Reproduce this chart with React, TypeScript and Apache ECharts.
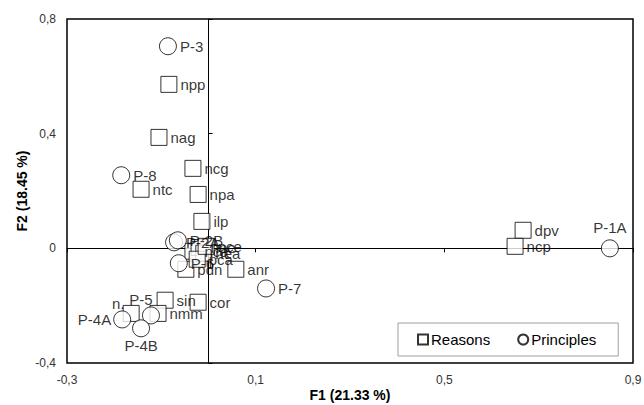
import React, { useEffect, useRef } from "react";
import * as echarts from "echarts";

// Reasons (squares)
const reasonNames = ["npp", "nag", "ncg", "ntc", "npa", "ilp", "pdn", "nca", "npe", "nea", "pca", "nce", "anr", "dpv", "ncp", "sin", "cor", "nmm", "n."];
const reasonF1 = [-0.084, -0.105, -0.033, -0.143, -0.022, -0.014, -0.048, -0.033, -0.02, -0.01, -0.024, -0.005, 0.058, 0.667, 0.65, -0.092, -0.022, -0.107, -0.164];
const reasonF2 = [0.572, 0.387, 0.279, 0.206, 0.188, 0.094, -0.073, -0.01, 0.003, -0.017, -0.038, 0.007, -0.073, 0.063, 0.007, -0.181, -0.188, -0.227, -0.227];

// Principles (circles)
const principleNames = ["P-3", "P-8", "P-2A", "P-2B", "P-6", "P-7", "P-1A", "P-5", "P-4A", "P-4B"];
const principleF1 = [-0.086, -0.185, -0.073, -0.065, -0.063, 0.122, 0.851, -0.122, -0.183, -0.143];
const principleF2 = [0.705, 0.255, 0.021, 0.028, -0.052, -0.14, 0.0, -0.234, -0.248, -0.279];

// Axis settings
const xMin = -0.3, xMax = 0.9, xStep = 0.4;
const yMin = -0.4, yMax = 0.8, yStep = 0.4;
const xTitle = "F1 (21.33 %)";
const yTitle = "F2 (18.45 %)";
const seriesNames = ["Reasons", "Principles"];

// label placement tweaks (style only)
const labelStyleByName: Record<string, any> = {
  "P-1A": { position: "top", distance: 4 },
  "P-4A": { position: "left", distance: 2 },
  "P-4B": { position: "bottom", distance: 1 },
  "P-5": { position: "top", distance: 0, offset: [-10, 1] },
  "n.": { position: "top", distance: 0, offset: [-13, 6] },
};

const FONT = "'Liberation Sans', Arial, sans-serif";

const fmt = (v: number) => {
  const r = +(+v).toFixed(1);
  return r === 0 ? "0" : String(r).replace(".", ",");
};

function buildData(names: string[], xs: number[], ys: number[]) {
  return names.map((n, i) => {
    const item: any = { name: n, value: [xs[i], ys[i]] };
    if (labelStyleByName[n]) item.label = labelStyleByName[n];
    return item;
  });
}

export default function App() {
  const ref = useRef<HTMLDivElement>(null);
  useEffect(() => {
    if (!ref.current) return;
    const chart = echarts.init(ref.current, null, { renderer: "svg" });
    const baseLabel = {
      show: true,
      position: "right",
      distance: 3,
      formatter: (p: any) => p.name,
      color: "#000",
      fontSize: 15,
      fontFamily: FONT,
    };
    chart.setOption({
      animation: false,
      backgroundColor: "#fff",
      textStyle: { fontFamily: FONT },
      grid: {
        left: 67,
        top: 19,
        right: 11,
        bottom: 42,
        containLabel: false,
        outerBoundsMode: "none",
        show: true,
        borderColor: "#000",
        borderWidth: 1.5,
        backgroundColor: "transparent",
      },
      legend: {
        data: seriesNames,
        left: 398,
        top: 323,
        orient: "horizontal",
        padding: [9, 22, 9, 19],
        itemGap: 27,
        itemWidth: 10,
        itemHeight: 10,
        borderColor: "#a0a0a0",
        borderWidth: 1,
        backgroundColor: "#fff",
        textStyle: { fontSize: 15, color: "#000", fontFamily: FONT, padding: [0, 0, 0, -2] },
      },
      xAxis: [
        {
          type: "value",
          min: xMin,
          max: xMax,
          interval: xStep,
          name: xTitle,
          nameLocation: "middle",
          nameMoveOverlap: false,
          nameGap: 25,
          nameTextStyle: { fontSize: 14, fontWeight: "bold", color: "#000", fontFamily: FONT },
          axisLine: { show: false, onZero: false },
          axisTick: { show: false },
          splitLine: { show: false },
          axisLabel: { formatter: fmt, fontSize: 12, color: "#333", margin: 11, fontFamily: FONT },
        },
        {
          type: "value",
          min: xMin,
          max: xMax,
          interval: xStep,
          position: "bottom",
          axisLine: { show: true, onZero: true, onZeroAxisIndex: 0, lineStyle: { color: "#000", width: 1 } },
          axisTick: { show: true, length: 4, lineStyle: { color: "#000" } },
          axisLabel: { show: false },
          splitLine: { show: false },
        },
      ],
      yAxis: [
        {
          type: "value",
          min: yMin,
          max: yMax,
          interval: yStep,
          name: yTitle,
          nameLocation: "middle",
          nameMoveOverlap: false,
          nameGap: 38,
          nameRotate: 90,
          nameTextStyle: { fontSize: 14, fontWeight: "bold", color: "#000", fontFamily: FONT },
          axisLine: { show: false, onZero: false },
          axisTick: { show: false },
          splitLine: { show: false },
          axisLabel: { formatter: fmt, fontSize: 12, color: "#333", margin: 11, fontFamily: FONT },
        },
        {
          type: "value",
          min: yMin,
          max: yMax,
          interval: yStep,
          position: "left",
          axisLine: { show: true, onZero: true, onZeroAxisIndex: 0, lineStyle: { color: "#000", width: 1 } },
          axisTick: { show: true, inside: true, length: 4, lineStyle: { color: "#000" } },
          axisLabel: { show: false },
          splitLine: { show: false },
        },
      ],
      series: [
        {
          name: seriesNames[0],
          type: "scatter",
          xAxisIndex: 0,
          yAxisIndex: 0,
          symbol: "rect",
          symbolSize: 16,
          itemStyle: { color: "#fff", borderColor: "#000", borderWidth: 1 },
          label: baseLabel,
          data: buildData(reasonNames, reasonF1, reasonF2),
          z: 3,
        },
        {
          name: seriesNames[1],
          type: "scatter",
          xAxisIndex: 0,
          yAxisIndex: 0,
          symbol: "circle",
          symbolSize: 17,
          itemStyle: { color: "#fff", borderColor: "#000", borderWidth: 1 },
          label: baseLabel,
          data: buildData(principleNames, principleF1, principleF2),
          z: 4,
        },
      ],
    });
    return () => chart.dispose();
  }, []);
  return (
    <div
      ref={ref}
      style={{ position: "fixed", left: 0, top: 0, width: 644, height: 405, background: "#fff" }}
    />
  );
}
